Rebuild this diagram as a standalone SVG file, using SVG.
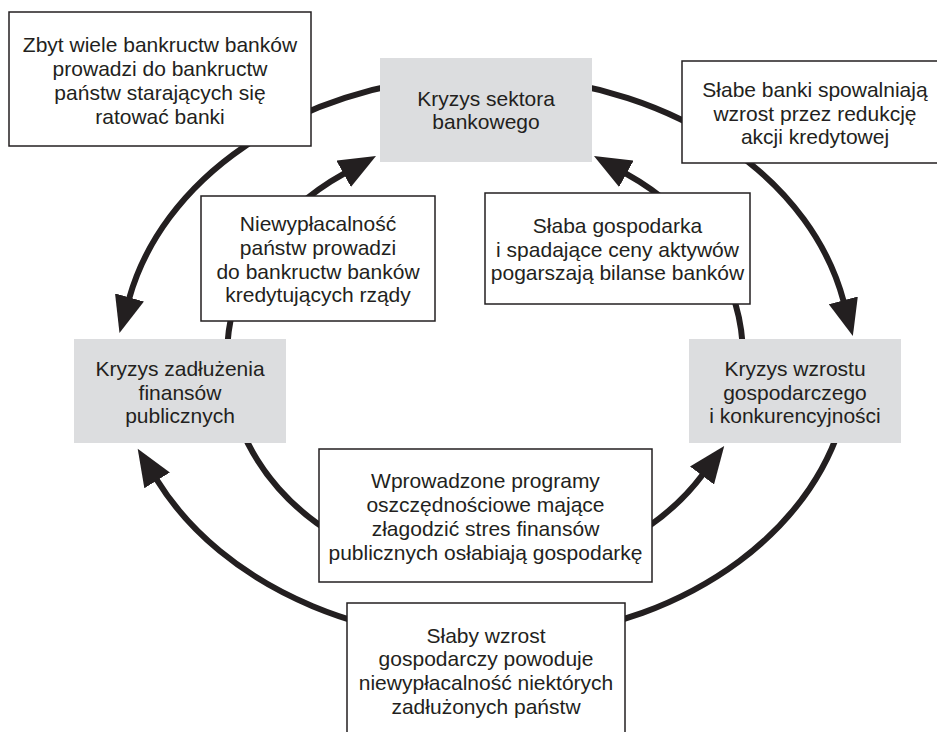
<svg xmlns="http://www.w3.org/2000/svg" width="937" height="732" viewBox="0 0 937 732">
<style>
.box{fill:#ffffff;stroke:#231f20;stroke-width:1.5}
.crisis{fill:#dcdddf;stroke:none}
.t{font-family:"Liberation Sans",Arial,sans-serif;font-size:21px;fill:#231f20;text-anchor:middle}
.arc{fill:none;stroke:#231f20;stroke-width:6}
</style>
<defs>
<marker id="ah" markerUnits="userSpaceOnUse" markerWidth="38" markerHeight="30" viewBox="0 0 38 30" refX="1" refY="15" orient="auto">
<path d="M0,0 L37,15 L0,30 Z" fill="#231f20"/>
</marker>
</defs>
<rect width="937" height="732" fill="#ffffff"/>
<g id="connectors">
<path class="arc" d="M454.2,77.1 A365,282 0 0 0 129.2,298.4" marker-end="url(#ah)"/>
<path class="arc" d="M517.8,77.1 A365,282 0 0 1 843.6,301.3" marker-end="url(#ah)"/>
<path class="arc" d="M845.5,407 A365,282 0 0 1 156.6,479.5" marker-end="url(#ah)"/>
<path class="arc" d="M227,357 A258,219 0 0 1 344.5,173.3" marker-end="url(#ah)"/>
<path class="arc" d="M743,357 A258,219 0 0 0 625.5,173.3" marker-end="url(#ah)"/>
<path class="arc" d="M227,357 A258,219 0 0 0 702.6,474.7" marker-end="url(#ah)"/>
</g>
<g id="kryzys-bankowy">
<rect class="crisis" x="380" y="58" width="212" height="104"/>
<text class="t" x="486" y="106">Kryzys sektora</text>
<text class="t" x="486" y="129">bankowego</text>
</g>
<g id="kryzys-zadluzenia">
<rect class="crisis" x="74" y="339" width="212" height="104"/>
<text class="t" x="180" y="376">Kryzys zadłużenia</text>
<text class="t" x="180" y="399.5">finansów</text>
<text class="t" x="180" y="423">publicznych</text>
</g>
<g id="kryzys-wzrostu">
<rect class="crisis" x="689" y="339" width="212" height="104"/>
<text class="t" x="795" y="376">Kryzys wzrostu</text>
<text class="t" x="795" y="399.5">gospodarczego</text>
<text class="t" x="795" y="423">i konkurencyjności</text>
</g>
<g id="zbyt-wiele">
<rect class="box" x="9" y="12" width="302" height="134"/>
<text class="t" x="160" y="52">Zbyt wiele bankructw banków</text>
<text class="t" x="160" y="76">prowadzi do bankructw</text>
<text class="t" x="160" y="100">państw starających się</text>
<text class="t" x="160" y="124">ratować banki</text>
</g>
<g id="slabe-banki">
<rect class="box" x="682" y="61" width="268" height="102"/>
<text class="t" x="815" y="97">Słabe banki spowalniają</text>
<text class="t" x="815" y="120.5">wzrost przez redukcję</text>
<text class="t" x="815" y="144">akcji kredytowej</text>
</g>
<g id="niewyplacalnosc">
<rect class="box" x="201" y="196" width="234" height="125"/>
<text class="t" x="318" y="231">Niewypłacalność</text>
<text class="t" x="318" y="255">państw prowadzi</text>
<text class="t" x="318" y="278.5">do bankructw banków</text>
<text class="t" x="318" y="302">kredytujących rządy</text>
</g>
<g id="slaba-gospodarka">
<rect class="box" x="485" y="193" width="265" height="111"/>
<text class="t" x="617.5" y="232.5">Słaba gospodarka</text>
<text class="t" x="617.5" y="256.5">i spadające ceny aktywów</text>
<text class="t" x="617.5" y="280">pogarszają bilanse banków</text>
</g>
<g id="programy-oszczednosciowe">
<rect class="box" x="319" y="449" width="333" height="133"/>
<text class="t" x="485.5" y="487.5">Wprowadzone programy</text>
<text class="t" x="485.5" y="511.5">oszczędnościowe mające</text>
<text class="t" x="485.5" y="535.5">złagodzić stres finansów</text>
<text class="t" x="485.5" y="560">publicznych osłabiają gospodarkę</text>
</g>
<g id="slaby-wzrost">
<rect class="box" x="347" y="603" width="278" height="140"/>
<text class="t" x="486" y="642.5">Słaby wzrost</text>
<text class="t" x="486" y="666">gospodarczy powoduje</text>
<text class="t" x="486" y="690">niewypłacalność niektórych</text>
<text class="t" x="486" y="713.5">zadłużonych państw</text>
</g>
</svg>
